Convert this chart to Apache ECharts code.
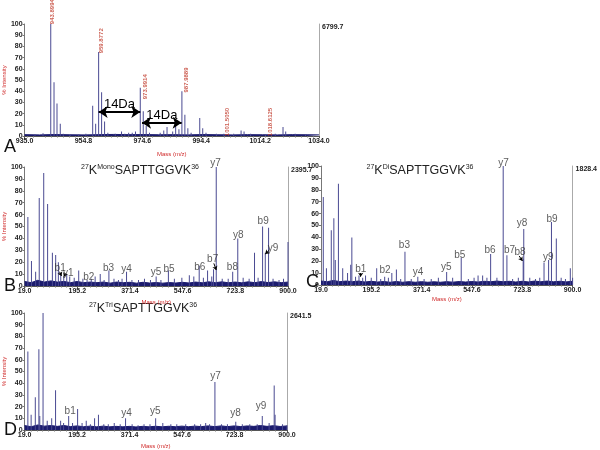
<!DOCTYPE html>
<html><head><meta charset="utf-8">
<script src="https://cdn.jsdelivr.net/npm/echarts@6/dist/echarts.min.js"></script>
<style>html,body{margin:0;padding:0;background:#fff}#c{width:600px;height:450px}</style>
</head><body><div id="c"></div>
<script>
// ---------- Panel A (MS, 935–1034) ----------
const A_mz  = [938.5, 941.2, 943.8, 944.9, 945.9, 947.0, 948.0, 950.3, 953.2, 955.6, 957.9, 958.9, 959.9, 960.9, 961.9, 963.0, 965.5, 967.6, 968.7, 970.0, 971.2, 972.3, 973.9, 974.9, 975.9, 977.0, 980.6, 981.8, 982.9, 984.8, 985.8, 986.9, 987.9, 988.9, 989.9, 991.0, 993.9, 994.9, 996.0, 999.5, 1002.0, 1005.3, 1007.8, 1008.8, 1011.0, 1016.0, 1019.3, 1021.9, 1022.8, 1026.0, 1029.5];
const A_int = [1.5, 2.5, 100, 48, 29, 11, 2, 1.5, 1.5, 2, 27, 11, 75, 39, 13, 3, 2, 4, 2, 3, 3, 4, 43, 22, 9, 3, 3, 5, 8, 4, 10, 6, 40, 19, 7, 3, 16, 7, 3, 2, 2, 2, 5, 4, 2, 1.5, 2, 8, 4, 2, 1.5];
const A_baseMz = [935, 940, 945, 950, 955, 960, 965, 970, 975, 980, 985, 990, 995, 1000, 1005, 1010, 1015, 1020, 1025, 1030, 1034];
const A_base   = [1.2, 1.0, 1.3, 1.1, 1.0, 1.2, 1.4, 1.2, 1.3, 1.1, 1.2, 1.0, 1.3, 1.1, 1.0, 1.2, 1.1, 1.0, 1.2, 1.1, 1.0];
const A_ticks = [935.0, 954.8, 974.6, 994.4, 1014.2, 1034.0];
const A_peakLabels = ['943.8994', '959.8772', '973.9914', '987.9889', '1001.5050', '1018.6125'];
const A_peakLabelPos = [[944.5, 111], [960.7, 85], [975.6, 44], [989.3, 50], [1003.1, 12.5], [1017.5, 12.5]];
const A_arrows = [[959.9, 973.9, 21.4], [974.5, 987.8, 11.9]];
const A_max = '6799.7';

// ---------- Panels B, C, D (MS/MS, 19–900) ----------
const msms_ticks = [19.0, 195.2, 371.4, 547.6, 723.8, 900.0];
const baseMz = [19,41,63,85,107,129,151,173,195,217,239,261,283,305,327,349,371,393,415,437,459,481,503,525,547,569,591,613,635,657,679,701,723,745,767,789,811,833,855,877,900];

const B_mz  = [30, 42, 56, 68, 83, 96, 112, 123, 132, 140, 150, 160, 170, 185, 200, 214, 228, 242, 255, 272, 285, 301, 318, 333, 345, 360, 378, 400, 420, 440, 459, 475, 500, 520, 545, 570, 585, 603, 617, 631, 645, 651, 660, 680, 700, 715, 732, 750, 770, 788, 800, 815, 824, 835, 850, 870, 885, 900];
const B_int = [58, 21, 12, 74, 95, 69, 28, 26, 20, 9, 8, 10, 8, 7, 13, 6, 5, 6, 8, 10, 5, 13, 6, 5, 6, 12, 5, 5, 6, 5, 8, 5, 13, 6, 7, 9, 8, 17, 7, 13, 8, 14, 100, 6, 6, 12, 40, 7, 6, 28, 7, 50, 28, 49, 6, 5, 6, 37];
const B_base = [3.8,2.8,4.8,3.3,4.3,3.3,3.8,2.8,3.8,2.8,3.3,2.8,3.3,2.4,3.3,2.8,3.1,2.4,3.1,2.5,2.9,2.4,2.9,2.5,3.1,2.5,3.3,2.7,3.5,2.8,3.5,2.7,3.3,2.7,3.5,2.8,3.7,2.9,3.5,2.8,3.3];
const B_ions = ['y7','b1','y1','b2','b3','y4','y5','b5','b6','b7','b8','y8','b9','y9'];
const B_ionPos = [[658,103.4],[138,15.1],[165,10.9],[234,7.6],[300,15.1],[360,14.3],[459,11.8],[502,14.3],[605,16],[648,22.7],[714,16],[734,43],[817,54.6],[850,32]];
const B_pointers = [[[652,19],[660,13.4]],[[838,30.3],[824,26.9]],[[136,12],[142.5,8.4]],[[155.7,10.7],[150.4,7.8]]];
const B_max = '2395.7';

const C_mz  = [27, 38, 55, 64, 69, 80, 95, 112, 123, 127, 140, 152, 165, 175, 195, 214, 228, 242, 255, 267, 283, 298, 313, 335, 358, 380, 405, 430, 459, 480, 510, 535, 555, 569, 585, 600, 613, 635, 657, 670, 690, 710, 727, 729, 750, 770, 785, 800, 816, 826, 843, 860, 875, 892, 900];
const C_int = [74, 14, 46, 56, 21, 85, 14, 10, 17, 40, 7, 8, 6, 8, 6, 14, 5, 7, 6, 10, 13, 5, 28, 5, 7, 5, 5, 6, 11, 6, 23, 5, 6, 8, 8, 6, 26, 6, 100, 25, 5, 6, 22, 47, 6, 5, 6, 19, 21, 53, 39, 6, 5, 14, 6];
const C_base = [3.3,2.8,3.8,2.8,3.3,2.8,3.3,2.5,3.1,2.5,2.9,2.3,2.9,2.3,2.8,2.3,2.8,2.3,2.7,2.3,2.8,2.4,2.9,2.5,2.9,2.5,3.1,2.7,3.3,2.7,3.1,2.5,3.1,2.6,3.3,2.7,3.3,2.7,3.1,2.6,3.1];
const C_ions = ['y7','y8','b9','b3','b5','b6','b7','b8','y9','b1','b2','y4','y5'];
const C_ionPos = [[658,102.5],[723,52],[828,55.5],[311,33.6],[505,25.2],[611,29.4],[679,29.4],[716,27.7],[815,23.5],[158,13.4],[243,12.6],[359,10.9],[458,15.1]];
const C_pointers = [[[713,24.4],[724.5,20.2]],[[158,10],[158,7]]];
const C_max = '1828.4';

const D_mz  = [30, 41, 55, 67, 70, 81, 95, 110, 123, 140, 150, 167, 180, 197, 212, 226, 240, 254, 267, 285, 300, 320, 340, 358, 380, 400, 420, 440, 459, 483, 510, 530, 560, 590, 610, 627, 640, 658, 680, 700, 728, 750, 775, 800, 817, 840, 857, 860, 885, 900];
const D_int = [67, 13, 28, 69, 12, 100, 8, 10, 34, 8, 6, 12, 6, 18, 6, 8, 5, 10, 13, 5, 5, 6, 5, 10, 5, 4, 5, 5, 10, 6, 5, 5, 5, 5, 5, 6, 5, 41, 5, 5, 7, 5, 5, 5, 12, 6, 38, 13, 5, 4];
const D_base = [3.8,2.8,4.3,3.3,3.8,3.1,3.8,2.9,3.5,2.8,3.3,2.7,3.3,2.7,3.1,2.7,3.1,2.6,3.1,2.7,3.2,2.7,3.2,2.8,3.3,2.8,3.3,2.9,3.5,2.9,3.5,2.9,3.5,2.9,3.5,3.1,3.8,3.1,3.7,3.0,3.5];
const D_ions = ['b1','y4','y5','y7','y8','y9'];
const D_ionPos = [[172,16],[361,14.3],[458,16],[660,46],[727,14.3],[813,20.2]];
const D_max = '2641.5';

const titles = [
  {mod: 'Mono', x: 140, y: 171},
  {mod: 'Di',   x: 420, y: 171},
  {mod: 'Tri',  x: 143, y: 309}
];

// ---------- build ----------
const FF = 'Arial, "Liberation Sans", sans-serif';
const RED = '#d02a2a';
const zip = (a, b) => a.map((v, i) => [v, b[i]]);

const panels = [
  {grid: {left: 21, top: 24, width: 298, height: 112}, min: 935, max: 1034, ticks: A_ticks, mz: A_mz, it: A_int, bmz: A_baseMz, base: A_base, maxLabel: A_max, yName: true, xGap: 15},
  {grid: {left: 22, top: 167, width: 266, height: 119}, min: 19, max: 900, ticks: msms_ticks, mz: B_mz, it: B_int, bmz: baseMz, base: B_base, maxLabel: B_max, yName: true, xGap: 13},
  {grid: {left: 321, top: 166, width: 259, height: 119}, min: 19, max: 900, ticks: msms_ticks, mz: C_mz, it: C_int, bmz: baseMz, base: C_base, maxLabel: C_max, yName: false, xGap: 11},
  {grid: {left: 22, top: 313, width: 265, height: 119}, min: 19, max: 900, ticks: msms_ticks, mz: D_mz, it: D_int, bmz: baseMz, base: D_base, maxLabel: D_max, yName: true, xGap: 13}
];

const grid = [], xAxis = [], yAxis = [], series = [];
panels.forEach((p, i) => {
  grid.push(p.grid);
  xAxis.push({
    type: 'value', gridIndex: i, min: p.min, max: p.max,
    axisLine: {show: true, onZero: false, lineStyle: {color: '#555', width: 1}},
    axisTick: {show: true, customValues: p.ticks, length: 2, lineStyle: {color: '#555'}},
    minorTick: {show: true, splitNumber: 10, length: 1.5, lineStyle: {color: '#777'}},
    axisLabel: {customValues: p.ticks, formatter: v => Number(v).toFixed(1), fontSize: 7, fontWeight: 'bold', color: '#222', fontFamily: FF, margin: 2},
    splitLine: {show: false},
    name: 'Mass (m/z)', nameLocation: 'middle', nameGap: p.xGap,
    nameTextStyle: {color: RED, fontSize: 6, fontFamily: FF}
  });
  yAxis.push({
    type: 'value', gridIndex: i, min: 0, max: 100, interval: 10,
    axisLine: {show: true, lineStyle: {color: '#777'}},
    axisTick: {show: true, length: 2, lineStyle: {color: '#777'}},
    axisLabel: {fontSize: 7, fontWeight: 'bold', color: '#222', fontFamily: FF, margin: 2},
    splitLine: {show: false},
    name: p.yName ? '% Intensity' : '', nameLocation: 'middle', nameGap: 14, nameRotate: 90,
    nameTextStyle: {color: RED, fontSize: 6, fontFamily: FF}
  });
  yAxis.push({
    type: 'value', gridIndex: i, min: 0, max: 100, position: 'right',
    axisLine: {show: true, lineStyle: {color: '#aaa'}},
    axisTick: {show: false},
    axisLabel: {customValues: [100], formatter: () => p.maxLabel, fontSize: 7, fontWeight: 'bold', color: '#222', fontFamily: FF, margin: 3, verticalAlign: 'top'},
    splitLine: {show: false}
  });
  series.push({
    type: 'line', xAxisIndex: i, yAxisIndex: 2 * i, data: zip(p.bmz, p.base),
    symbol: 'none', silent: true, z: 2,
    lineStyle: {color: '#1b1b6e', width: 1}, areaStyle: {color: '#1b1b6e', opacity: 1}
  });
  series.push({
    type: 'bar', xAxisIndex: i, yAxisIndex: 2 * i, data: zip(p.mz, p.it),
    barWidth: 1, silent: true, z: 3,
    itemStyle: {color: '#4a4a92'}
  });
});

// Panel A arrows (14 Da)
series[1].markLine = {
  silent: true, animation: false, symbol: ['arrow', 'arrow'], symbolSize: 9,
  lineStyle: {color: '#000', width: 2, type: 'solid'},
  label: {show: true, position: 'middle', formatter: '14Da', fontSize: 13, color: '#000', fontFamily: FF, distance: 1},
  data: A_arrows.map(a => [{coord: [a[0], a[2]]}, {coord: [a[1], a[2]]}])
};

// Panel A rotated peak labels
series.push({
  type: 'scatter', xAxisIndex: 0, yAxisIndex: 0, clip: false, silent: true, z: 5,
  symbolSize: 1, itemStyle: {color: 'rgba(0,0,0,0)'},
  data: A_peakLabelPos.map((v, k) => ({value: v, name: A_peakLabels[k]})),
  label: {show: true, position: 'inside', rotate: 90, formatter: '{b}', color: '#c0392b', fontSize: 6, fontWeight: 'bold', fontFamily: FF}
});

// Ion labels for B, C, D
function ionSeries(idx, names, pos, pointers) {
  const s = {
    type: 'scatter', xAxisIndex: idx, yAxisIndex: 2 * idx, clip: false, silent: true, z: 5,
    symbolSize: 1, itemStyle: {color: 'rgba(0,0,0,0)'},
    data: pos.map((v, k) => ({value: v, name: names[k]})),
    label: {show: true, position: 'inside', formatter: '{b}', color: '#333', fontSize: 10, fontFamily: FF}
  };
  if (pointers) {
    s.markLine = {
      silent: true, animation: false, symbol: ['none', 'arrow'], symbolSize: 4,
      lineStyle: {color: '#000', width: 1, type: 'solid'}, label: {show: false},
      data: pointers.map(pp => [{coord: pp[0]}, {coord: pp[1]}])
    };
  }
  return s;
}
series.push(ionSeries(1, B_ions, B_ionPos, B_pointers));
series.push(ionSeries(2, C_ions, C_ionPos, C_pointers));
series.push(ionSeries(3, D_ions, D_ionPos, null));

const graphic = [];
titles.forEach(t => {
  graphic.push({
    type: 'text', x: t.x, y: t.y, silent: true,
    style: {
      text: '{s|27}{b|K}{s|' + t.mod + '}{b|SAPTTGGVK}{s|36}',
      align: 'center', verticalAlign: 'middle', fill: '#222',
      rich: {
        b: {fontSize: 12.5, fontFamily: FF, fill: '#222', lineHeight: 14},
        s: {fontSize: 7, fontFamily: FF, fill: '#222', verticalAlign: 'top', lineHeight: 14}
      }
    }
  });
});
[['A', 4, 147], ['B', 4, 286], ['C', 306, 282], ['D', 4, 430]].forEach(l => {
  graphic.push({type: 'text', x: l[1], y: l[2], silent: true,
    style: {text: l[0], fontSize: 18, fontFamily: FF, fill: '#111', verticalAlign: 'middle'}});
});

const chart = echarts.init(document.getElementById('c'), null, {renderer: 'canvas'});
chart.setOption({animation: false, backgroundColor: '#fff', grid, xAxis, yAxis, series, graphic});
</script></body></html>
